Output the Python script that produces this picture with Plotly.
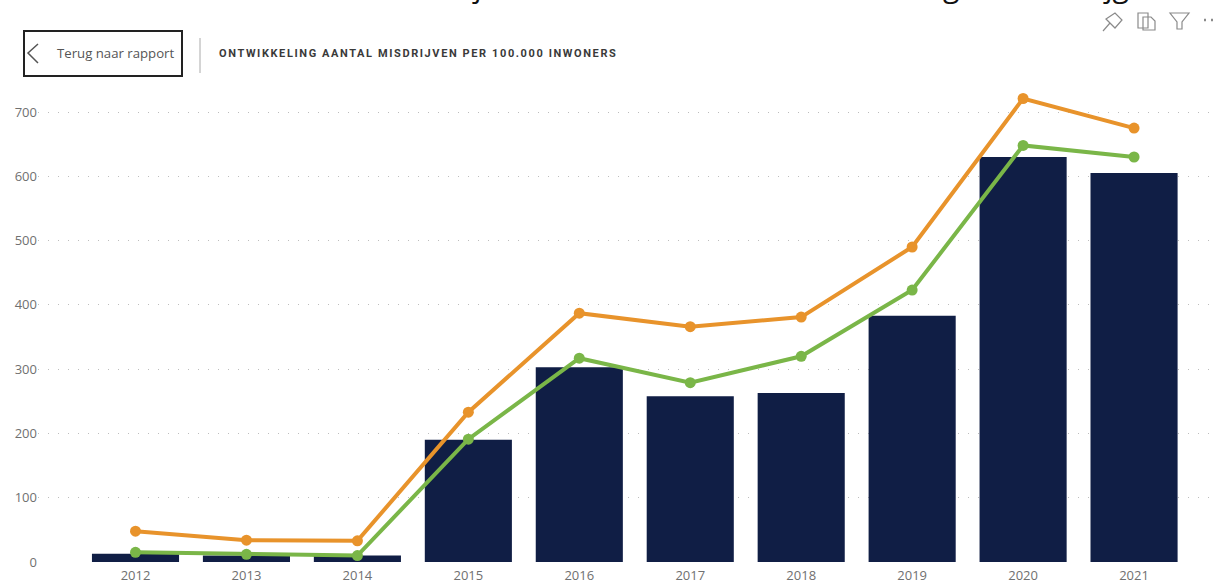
import plotly.graph_objects as go

years = ["2012","2013","2014","2015","2016","2017","2018","2019","2020","2021"]
bars = [13, 10, 10, 190, 303, 258, 263, 383, 630, 605]
orange = [48, 34, 33, 233, 387, 366, 381, 490, 721, 675]
green = [15, 12, 10, 191, 317, 279, 320, 423, 648, 630]
yticks = [0, 100, 200, 300, 400, 500, 600, 700]
title_text = "ONTWIKKELING AANTAL MISDRIJVEN PER 100.000 INWONERS"
back_text = "Terug naar rapport"

W, H = 1218, 581
L, R, T, B = 38, 1218, 80, 562
FONT = "Open Sans, sans-serif"
TICK = "#707070"


def px(x):
    return (x - L) / (R - L)


def py(y):
    return (B - y) / (B - T)


def path(points, close=False):
    s = "M " + " L ".join(f"{px(x):.5f},{py(y):.5f}" for x, y in points)
    return s + (" Z" if close else "")


def icon(points, close=False, color="#8A8A8A", width=1.2):
    return dict(type="path", xref="paper", yref="paper", path=path(points, close),
                line=dict(color=color, width=width))


def label(x, y, text, size, color, xanchor="left", yanchor="middle", family=FONT):
    return dict(xref="paper", yref="paper", x=px(x), y=py(y), xanchor=xanchor, yanchor=yanchor,
                text=text, showarrow=False, font=dict(size=size, color=color, family=family),
                borderpad=0, borderwidth=0)


fig = go.Figure()
fig.add_bar(x=years, y=bars, marker_color="#101E45", marker_line_width=0, width=0.785)
fig.add_scatter(x=years, y=orange, mode="lines+markers", line=dict(color="#E8932B", width=4), marker=dict(size=11, color="#E8932B"))
fig.add_scatter(x=years, y=green, mode="lines+markers", line=dict(color="#7AB648", width=4), marker=dict(size=11, color="#7AB648"))

pxu = (562 - 112) / 700
STEP = 110.95
shapes = [
    dict(type="rect", xref="paper", yref="paper", x0=px(24), x1=px(182), y0=py(76), y1=py(31),
         line=dict(color="#222222", width=2), fillcolor="white"),
    dict(type="line", xref="paper", yref="paper", x0=px(200), x1=px(200), y0=py(73), y1=py(38),
         line=dict(color="#AAAAAA", width=1)),
    icon([(38, 44), (28, 53), (38, 63)], color="#555555", width=1.5),
    # pin
    icon([(1103, 31), (1110, 23)]),
    icon([(1106, 19), (1115, 13), (1122, 20), (1115, 28), (1106, 19)], close=True),
    # copy
    icon([(1138, 13), (1148, 13), (1148, 28), (1138, 28)], close=True),
    icon([(1143, 17), (1151, 17), (1155, 21), (1155, 30), (1143, 30)], close=True),
    # filter
    icon([(1170, 13), (1189, 13), (1182, 22), (1182, 29), (1177, 29), (1177, 22)], close=True),
    # more dots
    icon([(1204, 20), (1206, 20)], width=2.5),
    icon([(1211, 20), (1213, 20)], width=2.5),
]

fig.update_layout(
    width=W, height=H, autosize=False, showlegend=False,
    paper_bgcolor="white", plot_bgcolor="white",
    margin=dict(l=L, r=W - R, t=T, b=H - B),
    font=dict(family=FONT, color=TICK, size=13),
    xaxis=dict(type="category", categoryorder="array", categoryarray=years, automargin=False,
               range=[(L - 135.5) / STEP, (R - 135.5) / STEP],
               showgrid=False, zeroline=False, showline=False, ticks="", ticklabelstandoff=4,
               tickfont=dict(size=13, color=TICK, family=FONT)),
    yaxis=dict(range=[0, (B - T) / pxu], tickvals=yticks, showline=False, zeroline=False, automargin=False,
               showgrid=True, gridcolor="#BDBDBD", griddash="1px,9px", gridwidth=1,
               tickfont=dict(size=13, color=TICK, family=FONT)),
    shapes=shapes,
    annotations=[
        label(57, 53, back_text, 13.2, "#555555"),
        label(219, 54, f'<b><span style="letter-spacing:1.6px">{title_text}</span></b>', 11, "#3A3A3A",
              family="Roboto, sans-serif"),
        # descenders of the large heading that the screenshot crops at its top edge
        label(472, -35, "j", 30, "#111111", yanchor="top"),
        label(943, -35, "g", 30, "#111111", yanchor="top"),
        label(1103, -35, "jg", 30, "#111111", yanchor="top"),
    ],
)
fig.write_html("out.html", config=dict(displayModeBar=False),
               post_script="document.body.style.margin='0';")
